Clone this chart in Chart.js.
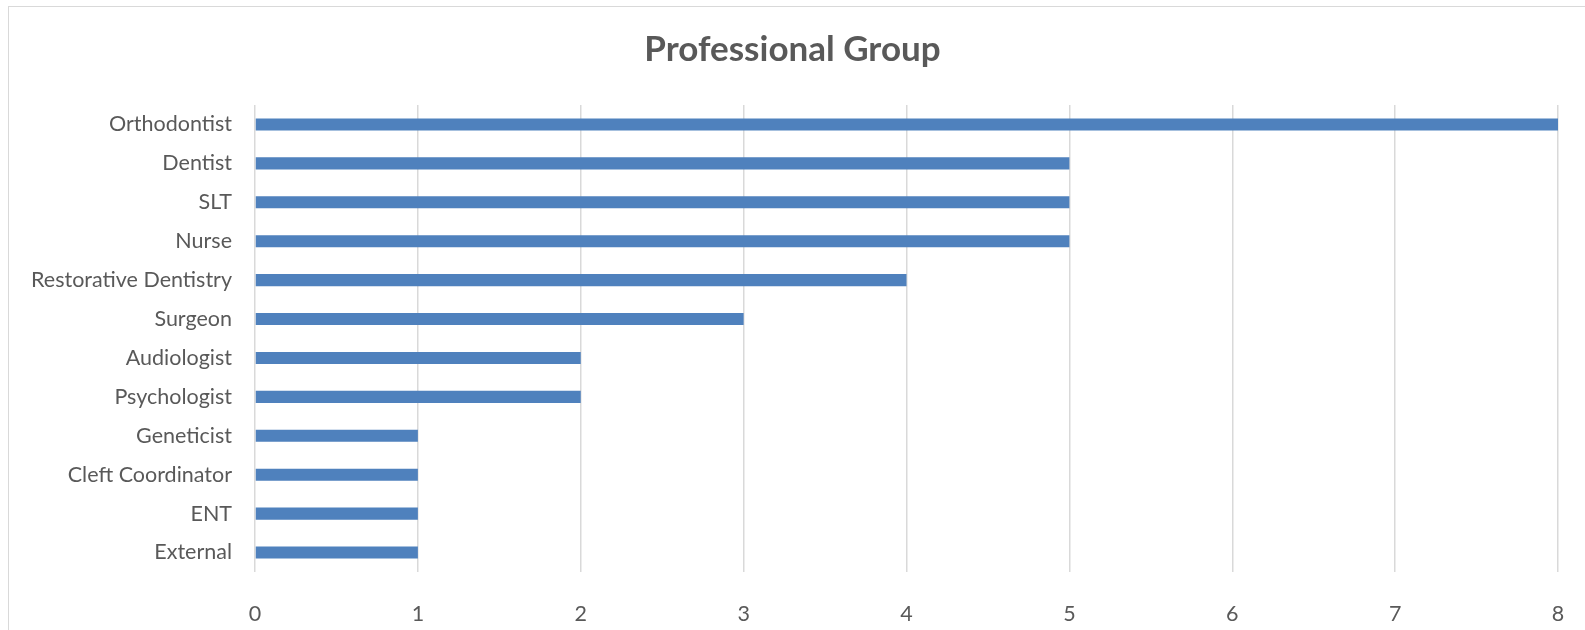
<!DOCTYPE html>
<html>
<head>
<meta charset="utf-8">
<script src="https://cdn.jsdelivr.net/npm/chart.js@4.4.1/dist/chart.umd.min.js"></script>
<style>
  html, body { margin: 0; padding: 0; background: #fff; }
  #wrap { position: relative; width: 1585px; height: 630px; overflow: hidden; }
  #frame { position: absolute; left: 8px; top: 6px; width: 1600px; height: 640px;
           border-left: 1.5px solid #d9d9d9; border-top: 1.5px solid #d9d9d9; }
  canvas { position: absolute; left: 0; top: 0; }
</style>
</head>
<body>
<div id="wrap">
  <div id="frame"></div>
  <canvas id="myChart" width="1585" height="630"></canvas>
</div>
<script>
// Chart data
const categories = ['Orthodontist', 'Dentist', 'SLT', 'Nurse', 'Restorative Dentistry', 'Surgeon',
  'Audiologist', 'Psychologist', 'Geneticist', 'Cleft Coordinator', 'ENT', 'External'];
const counts = [8, 5, 5, 5, 4, 3, 2, 2, 1, 1, 1, 1];
const xTicks = [0, 1, 2, 3, 4, 5, 6, 7, 8];

const labelFont = 'Lato, "Open Sans", sans-serif';

// Center the title on the whole canvas rather than the padded layout box
const centerTitle = {
    id: 'centerTitle',
    beforeDraw(chart) {
        chart.boxes.forEach(function (box) {
            if (box.options && box.options.position === 'top' && box.fullSize) {
                box.left = 0;
                box.right = chart.width;
                box.width = chart.width;
            }
        });
    }
};

function initializeChart() {
    const ctx = document.getElementById('myChart').getContext('2d');
    return new Chart(ctx, {
        type: 'bar',
        data: {
            labels: categories,
            datasets: [{
                label: 'Professional Group',
                data: counts,
                backgroundColor: '#4f81bd',
                borderWidth: 0,
                barPercentage: 0.62,
                categoryPercentage: 0.5,
            }]
        },
        options: {
            indexAxis: 'y',
            responsive: false,
            animation: false,
            layout: { padding: { left: 27, right: 27, top: 0, bottom: 0 } },
            plugins: {
                legend: { display: false },
                tooltip: { enabled: false },
                title: {
                    display: true,
                    text: 'Professional Group',
                    color: '#595959',
                    font: { family: labelFont, size: 35, weight: 'bold' },
                    padding: { top: 29, bottom: 34 }
                }
            },
            scales: {
                x: {
                    min: 0,
                    max: 8,
                    afterBuildTicks: function (scale) {
                        scale.ticks = xTicks.map(v => ({ value: v }));
                    },
                    afterFit: function (scale) {
                        scale.height = 58;
                        scale.paddingLeft = 0;
                        scale.paddingRight = 0;
                    },
                    grid: { color: '#d9d9d9', lineWidth: 1.5, drawTicks: false },
                    border: { display: false },
                    ticks: {
                        color: '#595959',
                        padding: 29,
                        font: { family: labelFont, size: 21.5 }
                    }
                },
                y: {
                    afterFit: function (scale) { scale.width = 228; },
                    grid: { display: false, drawTicks: false },
                    border: { display: false },
                    ticks: {
                        color: '#595959',
                        padding: 23,
                        font: { family: labelFont, size: 21.5 }
                    }
                }
            }
        },
        plugins: [centerTitle]
    });
}

let myChart = initializeChart();
</script>
</body>
</html>
